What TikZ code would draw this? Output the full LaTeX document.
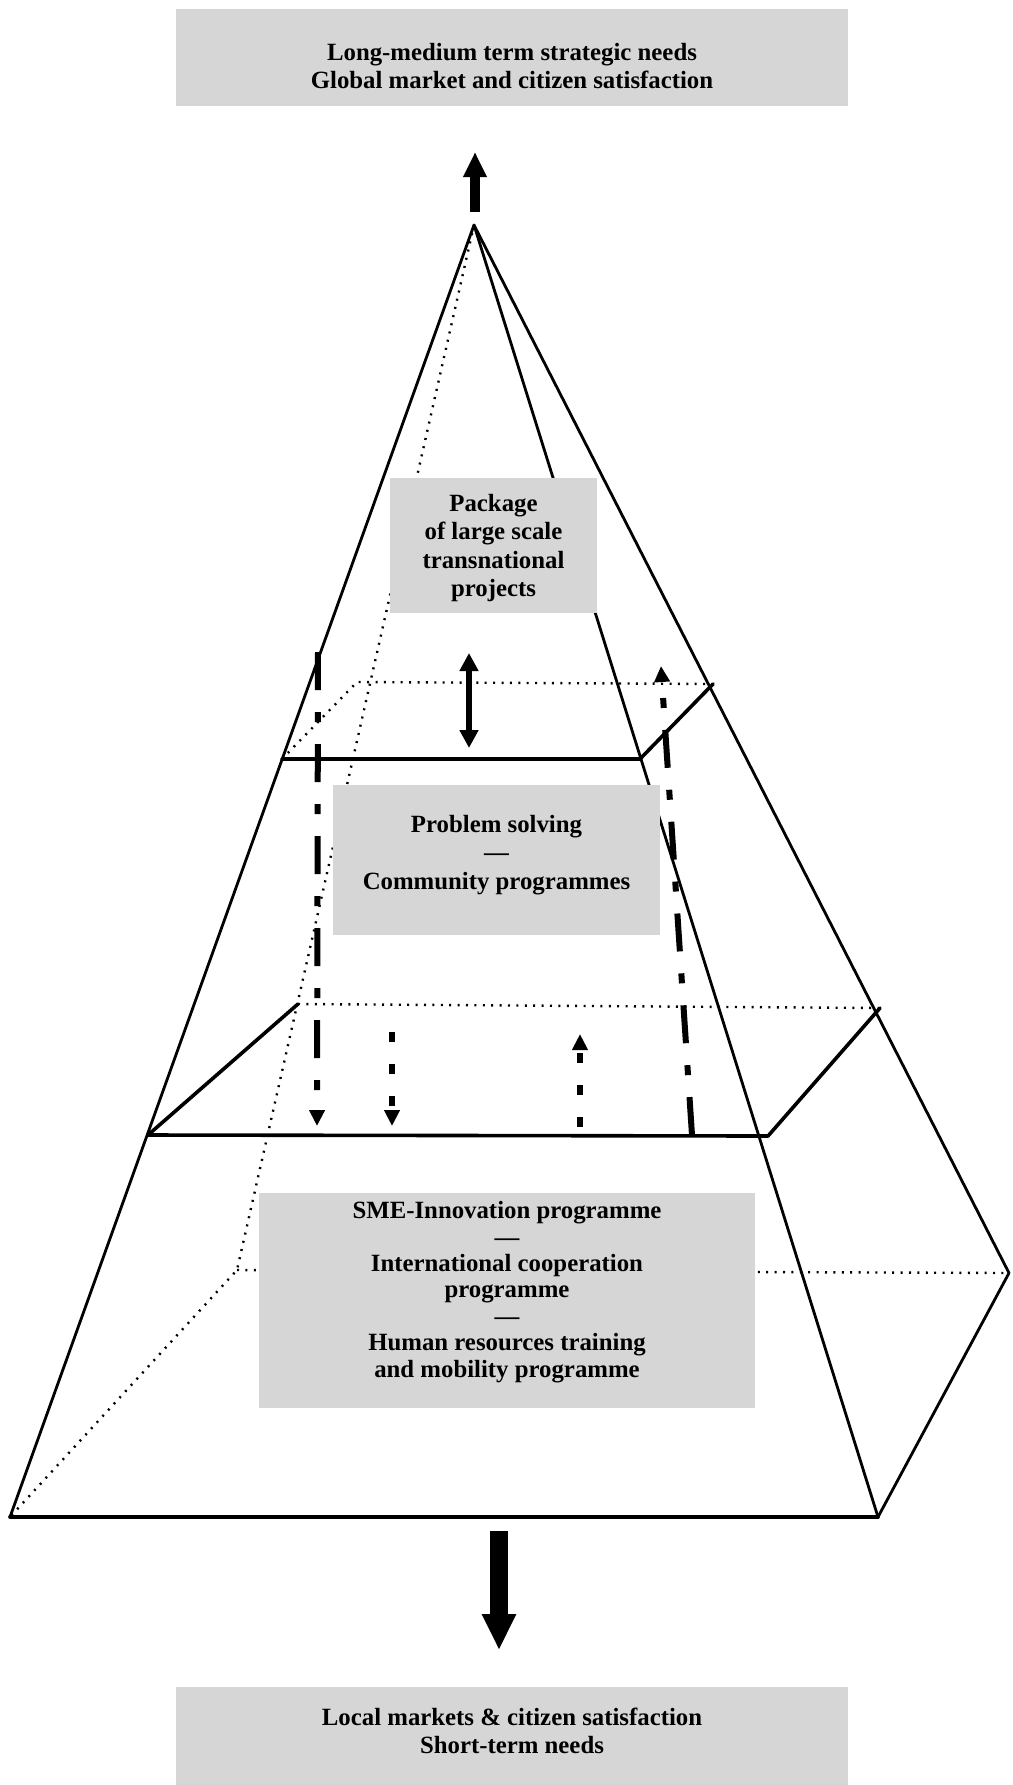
\documentclass[tikz,border=0pt]{standalone}
\usepackage{fontspec}
\setmainfont{Liberation Serif}
\usetikzlibrary{arrows.meta}
\begin{document}
\begin{tikzpicture}[x=0.5pt,y=-0.5pt,
  edge/.style={line width=1.4pt, line join=round, line cap=round},
  frontline/.style={line width=1.8pt, line join=round, line cap=round},
  hidden/.style={line width=1.2pt, dash pattern=on 1pt off 3.2pt},
  panel/.style={fill=black!16, draw=none, inner sep=0pt},
  lbl/.style={font=\bfseries\fontsize{12.4}{14.2}\selectfont, align=center, text=black, inner sep=0pt},
  dashdot/.style={line width=3pt, dash pattern=on 19pt off 11pt on 5pt off 11pt, -{Triangle[width=7.5pt,length=8pt]}},
  dashlink/.style={line width=2.8pt, dash pattern=on 5pt off 11pt, -{Triangle[width=7.5pt,length=8pt]}},
]
\useasboundingbox (0,0) rectangle (1013,1785);

% pyramid vertices
\coordinate (A)  at (474,225);
\coordinate (FL) at (10,1517);
\coordinate (FR) at (878,1517);
\coordinate (BR) at (1009,1273);
\coordinate (BL) at (237,1270);
% upper section
\coordinate (P1) at (282,759);
\coordinate (Q1) at (640,759);
\coordinate (R1) at (713,684);
\coordinate (S1) at (357,682);
% lower section
\coordinate (P2) at (148,1135);
\coordinate (Q2) at (768,1136);
\coordinate (R2) at (880,1008);
\coordinate (S2) at (298,1004);

% hidden edges
\draw[hidden] (A) -- (BL) -- (FL);
\draw[hidden] (BL) -- (BR);
\draw[hidden] (P1) -- (S1) -- (R1);
\draw[hidden] (S2) -- (R2);

% visible edges
\draw[edge] (FL) -- (A) -- (FR);
\draw[edge] (A) -- (BR) -- (FR);
\draw[frontline] (FL) -- (FR);
\draw[frontline] (P1) -- (Q1) -- (R1);
\draw[frontline] (S2) -- (P2) -- (Q2) -- (R2);

% vertical links
\coordinate (dl1) at (318,652);
\coordinate (dl2) at (317,1126);
\draw[dashdot] (dl1) -- (dl2);
\coordinate (dr1) at (692,1135);
\coordinate (dr2) at (661,666);
\draw[dashdot] (dr1) -- (dr2);
\coordinate (sd1) at (392,1032);
\coordinate (sd2) at (392,1126);
\draw[dashlink] (sd1) -- (sd2);
\coordinate (su1) at (580,1127);
\coordinate (su2) at (580,1034);
\draw[dashlink] (su1) -- (su2);
\coordinate (da1) at (469,653);
\coordinate (da2) at (469,748);
\draw[line width=3pt, {Triangle[width=9pt,length=9pt]}-{Triangle[width=9pt,length=9pt]}] (da1) -- (da2);

% big arrows
\coordinate (up1) at (475,212);
\coordinate (up2) at (475,152);
\draw[line width=5pt, -{Triangle[width=11pt,length=12.5pt]}] (up1) -- (up2);
\coordinate (dn1) at (499,1531);
\coordinate (dn2) at (499,1650);
\draw[line width=9pt, -{Triangle[width=16pt,length=18pt]}] (dn1) -- (dn2);

% panels
\node[panel, minimum width=336pt, minimum height=48.5pt] (top) at (512,57.5) {};
\node[lbl] (toptext) at (512,66)
  {Long-medium term strategic needs\\Global market and citizen satisfaction};
\node[panel, minimum width=103.5pt, minimum height=67.5pt] (pkg) at (493.5,545.5) {};
\node[lbl] (pkgtext) at (493.5,548)
  {Package\\of large scale\\transnational\\projects};
\node[panel, minimum width=163.5pt, minimum height=75pt] (prob) at (496.5,860) {};
\node[lbl] (probtext) at (496.5,855)
  {Problem solving\\—\\Community programmes};
\node[panel, minimum width=248pt, minimum height=107.5pt] (sme) at (507,1300.5) {};
\node[lbl, font=\bfseries\fontsize{12.4}{13.2}\selectfont] (smetext) at (507,1292)
  {SME-Innovation programme\\—\\International cooperation\\programme\\—\\Human resources training\\and mobility programme};
\node[panel, minimum width=336pt, minimum height=49pt] (bot) at (512,1736) {};
\node[lbl] (bottext) at (512,1731)
  {Local markets \& citizen satisfaction\\Short-term needs};
\end{tikzpicture}
\end{document}
